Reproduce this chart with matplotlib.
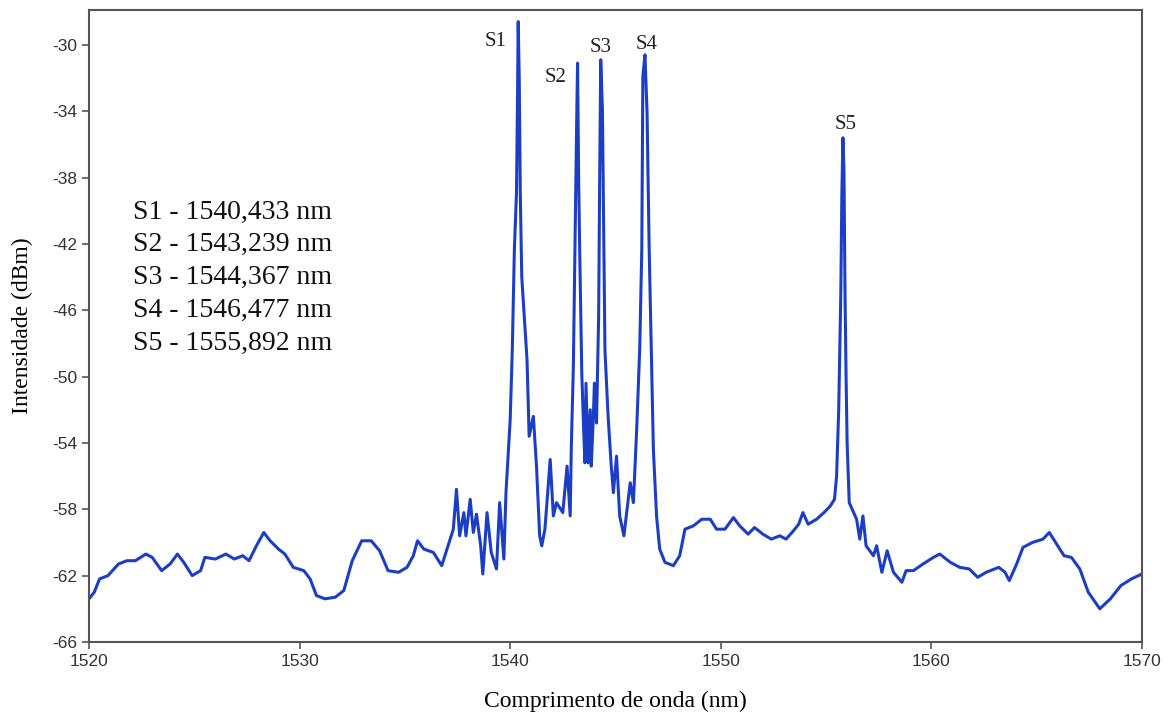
import numpy as np
import matplotlib.pyplot as plt

plt.rcParams['axes.unicode_minus'] = False

wl = [1520.0, 1520.25, 1520.5, 1520.9, 1521.4, 1521.8, 1522.2, 1522.7, 1523.0, 1523.45,
      1523.85, 1524.2, 1524.5, 1524.9, 1525.3, 1525.5, 1526.0, 1526.5, 1526.9, 1527.3,
      1527.6, 1527.95, 1528.3, 1528.6, 1529.0, 1529.3, 1529.7, 1530.2, 1530.5, 1530.8,
      1531.2, 1531.7, 1532.1, 1532.5, 1532.95, 1533.4, 1533.8, 1534.2, 1534.7, 1535.1,
      1535.4, 1535.6, 1535.9, 1536.35, 1536.75, 1537.1, 1537.3, 1537.45, 1537.6, 1537.8,
      1537.9, 1538.1, 1538.25, 1538.4, 1538.6, 1538.7, 1538.9, 1539.1, 1539.35, 1539.5,
      1539.7, 1539.8, 1539.9, 1540.0, 1540.1, 1540.2, 1540.3, 1540.35, 1540.38, 1540.43,
      1540.48, 1540.55, 1540.8, 1540.9, 1541.1, 1541.25, 1541.4, 1541.5, 1541.65, 1541.9,
      1542.05, 1542.2, 1542.5, 1542.7, 1542.85, 1542.9, 1543.0, 1543.1, 1543.15, 1543.2,
      1543.25, 1543.3, 1543.4, 1543.5, 1543.55, 1543.6, 1543.7, 1543.8, 1543.85, 1543.95,
      1544.0, 1544.1, 1544.2, 1544.25, 1544.3, 1544.38, 1544.45, 1544.5, 1544.65, 1544.8,
      1544.9, 1545.05, 1545.2, 1545.4, 1545.55, 1545.7, 1545.85, 1546.0, 1546.15, 1546.25,
      1546.3, 1546.4, 1546.5, 1546.6, 1546.7, 1546.8, 1546.95, 1547.1, 1547.35, 1547.75,
      1548.05, 1548.3, 1548.7, 1549.1, 1549.5, 1549.8, 1550.2, 1550.6, 1550.9, 1551.3,
      1551.6, 1552.0, 1552.4, 1552.8, 1553.1, 1553.45, 1553.7, 1553.9, 1554.15, 1554.55,
      1554.9, 1555.2, 1555.4, 1555.5, 1555.6, 1555.7, 1555.75, 1555.8, 1555.85, 1555.9,
      1555.95, 1556.0, 1556.1, 1556.45, 1556.6, 1556.75, 1556.9, 1557.25, 1557.4, 1557.65,
      1557.9, 1558.2, 1558.6, 1558.8, 1559.15, 1559.6, 1560.1, 1560.4, 1560.9, 1561.35,
      1561.8, 1562.2, 1562.6, 1563.2, 1563.5, 1563.7, 1564.05, 1564.35, 1564.8, 1565.3,
      1565.6, 1565.9, 1566.3, 1566.65, 1567.05, 1567.45, 1568.0, 1568.5, 1569.0, 1569.5,
      1570.0]
dbm = [-63.4, -63.0, -62.2, -62.0, -61.3, -61.1, -61.1, -60.7, -60.9, -61.7,
       -61.3, -60.7, -61.2, -62.0, -61.7, -60.9, -61.0, -60.7, -61.0, -60.8,
       -61.1, -60.2, -59.4, -59.9, -60.4, -60.7, -61.5, -61.7, -62.2, -63.2,
       -63.4, -63.3, -62.9, -61.1, -59.9, -59.9, -60.5, -61.7, -61.8, -61.5,
       -60.8, -59.9, -60.4, -60.6, -61.4, -60.0, -59.2, -56.8, -59.6, -58.2,
       -59.6, -57.4, -59.4, -58.3, -60.2, -61.9, -58.2, -60.6, -61.6, -57.6,
       -61.0, -57.0, -54.8, -52.6, -48.4, -42.3, -38.9, -33.0, -28.6, -32.0,
       -39.0, -44.0, -49.0, -53.6, -52.4, -55.4, -59.6, -60.2, -59.2, -55.0,
       -58.4, -57.6, -58.2, -55.4, -58.4, -54.4, -49.4, -40.0, -35.3, -31.1,
       -37.9, -42.3, -49.8, -53.6, -55.2, -50.4, -55.2, -52.0, -55.4, -52.4,
       -50.4, -52.8, -46.4, -38.0, -30.9, -33.9, -42.3, -48.4, -52.4, -55.4,
       -57.0, -54.8, -58.4, -59.6, -58.0, -56.4, -57.6, -53.4, -48.4, -42.3,
       -31.9, -30.6, -34.1, -42.3, -48.4, -54.4, -58.4, -60.4, -61.2, -61.4,
       -60.8, -59.2, -59.0, -58.6, -58.6, -59.2, -59.2, -58.5, -59.0, -59.5,
       -59.1, -59.5, -59.8, -59.6, -59.8, -59.3, -58.9, -58.2, -58.9, -58.6,
       -58.2, -57.8, -57.4, -56.0, -52.0, -45.0, -39.0, -35.6, -37.5, -45.0,
       -50.0, -54.0, -57.6, -58.6, -59.8, -58.4, -60.2, -60.8, -60.2, -61.8,
       -60.5, -61.8, -62.4, -61.7, -61.7, -61.3, -60.9, -60.7, -61.2, -61.5,
       -61.6, -62.1, -61.8, -61.5, -61.8, -62.3, -61.3, -60.3, -60.0, -59.8,
       -59.4, -60.0, -60.8, -60.9, -61.6, -63.0, -64.0, -63.4, -62.6, -62.2,
       -61.9]

# rótulos dos picos
pk_names = ['S1', 'S2', 'S3', 'S4', 'S5']
pk_x = [1540.38, 1543.2, 1544.3, 1546.4, 1555.8]
pk_y = [-28.6, -31.1, -30.9, -30.6, -35.6]
pk_nm = ['1540,433', '1543,239', '1544,367', '1546,477', '1555,892']

xticks = [1520, 1530, 1540, 1550, 1560, 1570]
yticks = [-30, -34, -38, -42, -46, -50, -54, -58, -62, -66]

fig = plt.figure(figsize=(11.68, 7.16), dpi=100)
ax = fig.add_axes([0.0762, 0.1034, 0.9015, 0.8826])

ax.plot(wl, dbm, color='#1c3ec6', linewidth=2.2)

ax.set_xlim(1520, 1570)
ax.set_ylim(-66, -27.9)
ax.set_xticks(xticks)
ax.set_yticks(yticks)
ax.tick_params(direction='out', length=5, width=1.2, color='#555555',
               labelsize=12.5, labelcolor='#333333')
for lab in ax.get_xticklabels() + ax.get_yticklabels():
    lab.set_family('Liberation Sans')
for s in ax.spines.values():
    s.set_color('#555555')
    s.set_linewidth(1.5)

ax.set_xlabel('Comprimento de onda (nm)', family='Liberation Serif', fontsize=17, labelpad=16)
ax.set_ylabel('Intensidade (dBm)', family='Liberation Serif', fontsize=17, labelpad=14)

# offsets dos rótulos S1..S5 (pontos)
offs = [(-16, -21), (-16, -17), (0, 2), (1.5, 0.5), (2, 2.5)]
for n, x, y, o in zip(pk_names, pk_x, pk_y, offs):
    ax.annotate(n, (x, y), xytext=o, textcoords='offset points', ha='center', va='bottom',
                family='Liberation Serif', fontsize=15, color='#222222')

txt = '\n'.join(n + ' - ' + v + ' nm' for n, v in zip(pk_names, pk_nm))
ax.text(0.042, 0.70, txt, transform=ax.transAxes, va='top', ha='left',
        family='Liberation Serif', fontsize=20, color='#111111', linespacing=1.41)

plt.savefig('out.png', dpi=100)
